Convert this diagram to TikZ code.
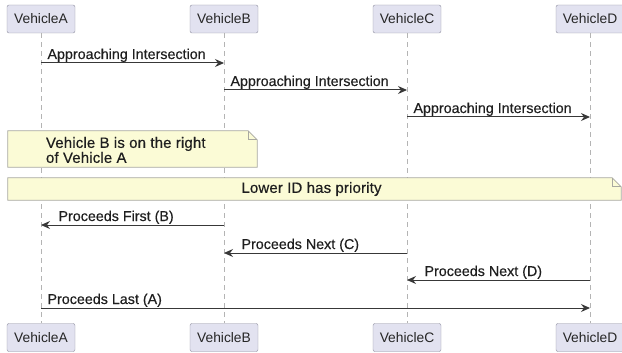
\documentclass[tikz,border=0pt]{standalone}
\usepackage{fontspec}
\setmainfont{Liberation Sans}
\newfontfamily\msgfont[FakeBold=0.4]{Liberation Sans}
\newfontfamily\notefont[FakeBold=0.4, LetterSpace=1]{Liberation Sans}
\usetikzlibrary{positioning, arrows.meta, calc}
\definecolor{partfill}{HTML}{E2E2F0}
\definecolor{partline}{HTML}{8E8E9E}
\definecolor{notefill}{HTML}{FBFBD6}
\definecolor{noteline}{HTML}{A8A8A0}
\definecolor{lifecol}{HTML}{B4B4B4}
\definecolor{msgcol}{HTML}{383838}
\newcommand{\NoteBox}[1]{%
  \draw[notebox] (#1.north west) -- ([xshift=-9pt]#1.north east) -- ([yshift=-9pt]#1.north east)
    -- (#1.south east) -- (#1.south west) -- cycle;
  \draw[notebox, fill=none] ([xshift=-9pt]#1.north east) |- ([yshift=-9pt]#1.north east);
}
\tikzset{
    part/.style={draw=partline, fill=partfill, rounded corners=2pt, minimum width=68pt,
      minimum height=28pt, inner sep=0pt, font=\fontsize{13.8}{15}\selectfont, text=black!85},
    life/.style={draw=lifecol, line width=0.9pt, dash pattern=on 5pt off 4pt},
    msg/.style={draw=msgcol, line width=1pt, -{Stealth[length=9pt, width=8pt, inset=3pt]}},
    lbl/.style={font=\msgfont\fontsize{14.3}{15}\selectfont, text=black!88, inner sep=1pt},
    notetext/.style={font=\notefont\fontsize{15}{12.6}\selectfont, text=black!88, inner sep=0pt},
    notebox/.style={draw=noteline, fill=notefill, line width=0.8pt},
    noteshape/.style={minimum width=#1, inner sep=0pt},
}
\begin{document}
\begin{tikzpicture}[x=1pt, y=-1pt]
    \useasboundingbox (0,0) rectangle (622,353);

    % participants, top and bottom
    \node[part] (pA) at (41,19) {VehicleA};
    \node[part] (pB) at (224,19) {VehicleB};
    \node[part] (pC) at (407,19) {VehicleC};
    \node[part] (pD) at (590,19) {VehicleD};
    \node[part] (qA) at (41,337.5) {VehicleA};
    \node[part] (qB) at (224,337.5) {VehicleB};
    \node[part] (qC) at (407,337.5) {VehicleC};
    \node[part] (qD) at (590,337.5) {VehicleD};

    \foreach \v in {A,B,C,D}
      \draw[life] (p\v.south) -- (q\v.north);

    % message rows
    \coordinate (r1) at (0,63);
    \coordinate (r2) at (0,90);
    \coordinate (r3) at (0,117);
    \coordinate (r4) at (0,225);
    \coordinate (r5) at (0,253);
    \coordinate (r6) at (0,280);
    \coordinate (r7) at (0,308);

    \draw[msg] (pA |- r1) -- node[lbl, pos=0, anchor=base west, xshift=5pt, yshift=4pt] (m1) {Approaching Intersection} (pB |- r1);
    \draw[msg] (pB |- r2) -- node[lbl, pos=0, anchor=base west, xshift=5pt, yshift=4pt] (m2) {Approaching Intersection} (pC |- r2);
    \draw[msg] (pC |- r3) -- node[lbl, pos=0, anchor=base west, xshift=5pt, yshift=4pt] (m3) {Approaching Intersection} (pD |- r3);

    % notes
    \node[noteshape=249pt, minimum height=36pt] (n1) at (132.5,149) {};
    \NoteBox{n1}
    \node[notetext, anchor=west, align=left] (t1)
      at ([xshift=38pt, yshift=-1pt]n1.west) {Vehicle B is on the right\\of Vehicle A};

    \node[noteshape=613pt, minimum height=22pt] (n2) at (314.5,189) {};
    \NoteBox{n2}
    \node[notetext] (t2) at (311.5,189) {Lower ID has priority};

    \draw[msg] (pB |- r4) -- node[lbl, pos=1, anchor=base west, xshift=16pt, yshift=4pt] (m4) {Proceeds First (B)} (pA |- r4);
    \draw[msg] (pC |- r5) -- node[lbl, pos=1, anchor=base west, xshift=16pt, yshift=4pt] (m5) {Proceeds Next (C)} (pB |- r5);
    \draw[msg] (pD |- r6) -- node[lbl, pos=1, anchor=base west, xshift=16pt, yshift=4pt] (m6) {Proceeds Next (D)} (pC |- r6);
    \draw[msg] (pA |- r7) -- node[lbl, pos=0, anchor=base west, xshift=5pt, yshift=4pt] (m7) {Proceeds Last (A)} (pD |- r7);
\end{tikzpicture}
\end{document}
